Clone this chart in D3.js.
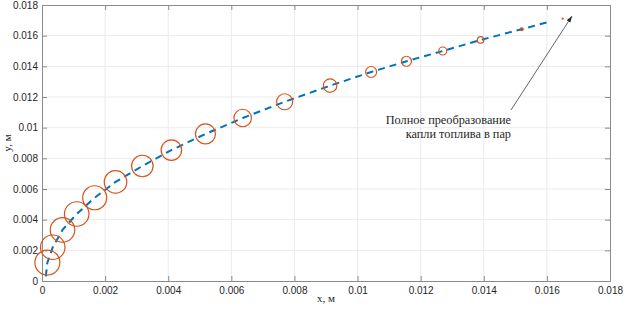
<!DOCTYPE html>
<html>
<head>
  <meta charset="utf-8">
  <title>Droplet trajectory</title>
  <script src="https://d3js.org/d3.v7.min.js"></script>
  <style>
    body { margin: 0; background: #fff; }
    .tick text { font-family: "Liberation Sans", Arial, sans-serif; font-size: 10px; fill: #262626; }
  </style>
</head>
<body>
<svg width="625" height="310"></svg>
<script>
  // droplet positions, m
  const xs = [0.00017, 0.00034, 0.00065, 0.0011, 0.00167, 0.00233, 0.00318, 0.0041, 0.00518,
              0.00636, 0.00769, 0.00913, 0.01043, 0.01155, 0.0127, 0.0139, 0.0152, 0.0165];
  const ys = [0.0012, 0.0022, 0.00333, 0.00437, 0.00543, 0.00646, 0.0075, 0.00854, 0.00959,
              0.01063, 0.01169, 0.01274, 0.01363, 0.01433, 0.015, 0.01572, 0.01642, 0.01711];
  // relative droplet diameter d/d0
  const dRel = [1, 0.98, 0.98, 0.98, 0.96, 0.9, 0.86, 0.82, 0.8, 0.7, 0.64, 0.54, 0.44, 0.4, 0.32, 0.26, 0.12, 0.04];
  // trajectory: start and end points of the dashed line
  const start = [0.00012, 0.0003];
  const end = [0.0161, 0.01692];
  const xTicks = [0, 0.002, 0.004, 0.006, 0.008, 0.01, 0.012, 0.014, 0.016, 0.018];
  const yTicks = [0, 0.002, 0.004, 0.006, 0.008, 0.01, 0.012, 0.014, 0.016, 0.018];

  const svg = d3.select("svg");
  const pL = 42, pR = 610, pT = 5, pB = 281;

  const x = d3.scaleLinear().domain([0, 0.018]).range([pL, pR]);
  const y = d3.scaleLinear().domain([0, 0.018]).range([pB, pT]);
  const r = d3.scaleLinear().domain([0, 1]).range([0, 12.5]);

  const fmt = d => d === 0 ? "0" : String(+d.toFixed(3));
  const serif = "'Liberation Serif', 'Times New Roman', serif";

  // grid
  svg.append("g").selectAll("line").data(xTicks.slice(1, -1)).enter().append("line")
    .attr("x1", d => x(d)).attr("x2", d => x(d)).attr("y1", pT).attr("y2", pB)
    .attr("stroke", "#ebebeb");
  svg.append("g").selectAll("line").data(yTicks.slice(1, -1)).enter().append("line")
    .attr("y1", d => y(d)).attr("y2", d => y(d)).attr("x1", pL).attr("x2", pR)
    .attr("stroke", "#ebebeb");

  // axes with inward ticks
  const ax = (g, axis) => g.call(axis).call(s => s.select(".domain").attr("stroke", "#8a8a8a"))
    .call(s => s.selectAll(".tick line").attr("stroke", "#8a8a8a"));

  ax(svg.append("g").attr("transform", `translate(0,${pB})`),
    d3.axisBottom(x).tickValues(xTicks).tickFormat(fmt).tickSizeInner(-5).tickSizeOuter(0).tickPadding(6));
  ax(svg.append("g").attr("transform", `translate(${pL},0)`),
    d3.axisLeft(y).tickValues(yTicks).tickFormat(fmt).tickSizeInner(-5).tickSizeOuter(0).tickPadding(4));
  ax(svg.append("g").attr("transform", `translate(0,${pT})`),
    d3.axisTop(x).tickValues(xTicks).tickFormat("").tickSizeInner(-5).tickSizeOuter(0));
  ax(svg.append("g").attr("transform", `translate(${pR},0)`),
    d3.axisRight(y).tickValues(yTicks).tickFormat("").tickSizeInner(-5).tickSizeOuter(0));

  // trajectory
  const pts = [start].concat(xs.slice(0, -1).map((v, i) => [v, ys[i]]), [end]);
  svg.append("path")
    .datum(pts)
    .attr("d", d3.line().x(d => x(d[0])).y(d => y(d[1])))
    .attr("fill", "none")
    .attr("stroke", "#0072BD")
    .attr("stroke-width", 2)
    .attr("stroke-dasharray", "7,5");

  // droplets
  svg.append("g").selectAll("circle").data(xs).enter().append("circle")
    .attr("cx", d => x(d))
    .attr("cy", (d, i) => y(ys[i]))
    .attr("r", (d, i) => r(dRel[i]))
    .attr("fill", "none")
    .attr("stroke", "#D95319")
    .attr("stroke-width", 1.2);

  // axis labels
  svg.append("text").attr("x", (pL + pR) / 2).attr("y", 302)
    .attr("text-anchor", "middle")
    .attr("font-family", serif).attr("font-size", 11)
    .attr("fill", "#262626").text("x, м");
  svg.append("text").attr("transform", `translate(11,${(pT + pB) / 2}) rotate(-90)`)
    .attr("text-anchor", "middle")
    .attr("font-family", serif).attr("font-size", 11)
    .attr("fill", "#262626").text("y, м");

  // annotation
  svg.append("defs").append("marker")
    .attr("id", "arr").attr("viewBox", "0 0 10 10").attr("refX", 10).attr("refY", 5)
    .attr("markerWidth", 8).attr("markerHeight", 8).attr("orient", "auto-start-reverse")
    .append("path").attr("d", "M0,1.5 L10,5 L0,8.5 Z").attr("fill", "#262626");
  svg.append("line")
    .attr("x1", 511).attr("y1", 110).attr("x2", 572).attr("y2", 16)
    .attr("stroke", "#404040").attr("stroke-width", 0.8)
    .attr("marker-end", "url(#arr)");
  const note = svg.append("text")
    .attr("font-family", serif).attr("font-size", 12.3)
    .attr("fill", "#262626").attr("text-anchor", "end");
  note.append("tspan").attr("x", 511).attr("y", 124).text("Полное преобразование");
  note.append("tspan").attr("x", 511).attr("y", 138).text("капли топлива в пар");
</script>
</body>
</html>
